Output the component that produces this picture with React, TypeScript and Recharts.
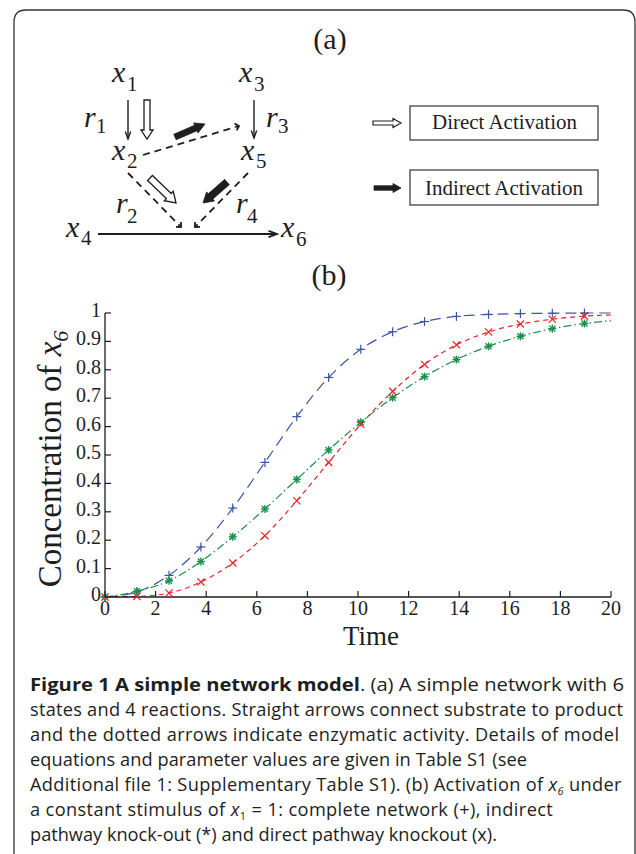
import React from 'react';
import { LineChart, Line, XAxis, YAxis } from 'recharts';

// time points where the markers sit, plus the end of the run
const timePoints = [0, 1.26, 2.53, 3.79, 5.05, 6.32, 7.58, 8.84, 10.11, 11.37, 12.63, 13.89, 15.16, 16.42, 17.68, 18.95, 20];
// complete network (+)
const completeNetwork = [0, 0.018, 0.076, 0.176, 0.313, 0.474, 0.635, 0.773, 0.872, 0.934, 0.97, 0.988, 0.995, 0.998, 0.999, 1.0, 1.0];
// indirect pathway knock-out (*)
const indirectKnockout = [0, 0.02, 0.057, 0.125, 0.212, 0.31, 0.414, 0.518, 0.615, 0.702, 0.776, 0.836, 0.883, 0.918, 0.945, 0.963, 0.973];
// direct pathway knockout (x)
const directKnockout = [0, 0.002, 0.014, 0.053, 0.12, 0.216, 0.339, 0.474, 0.608, 0.724, 0.819, 0.888, 0.933, 0.961, 0.978, 0.989, 0.993];

const xTicks = [0, 2, 4, 6, 8, 10, 12, 14, 16, 18, 20];
const yTicks = [0, 0.1, 0.2, 0.3, 0.4, 0.5, 0.6, 0.7, 0.8, 0.9, 1];
const yTickLabels = ['0', '0.1', '0.2', '0.3', '0.4', '0.5', '0.6', '0.7', '0.8', '0.9', '1'];

const data = timePoints.map((t, i) => ({
  t,
  full: completeNetwork[i],
  indirect: indirectKnockout[i],
  direct: directKnockout[i],
}));

const SERIF = '"Liberation Serif", "Times New Roman", serif';
const SANS = '"Open Sans", "Noto Sans", sans-serif';
const INK = '#1e1e1e';
const BLUE = '#3b55a6';
const GREEN = '#17904a';
const RED = '#ec2127';

// ---------- chart ticks (drawn inward like MATLAB) ----------
const BottomTick = (p: any) => (
  <g>
    <line x1={p.x} y1={p.y} x2={p.x} y2={p.y - 6} stroke={INK} strokeWidth={1.2} />
    <text x={p.x} y={p.y + 18} textAnchor="middle" fontFamily={SERIF} fontSize={20} fill={INK}>
      {p.payload.value}
    </text>
  </g>
);
const TopTick = (p: any) => (
  <line x1={p.x} y1={p.y} x2={p.x} y2={p.y + 6} stroke={INK} strokeWidth={1.2} />
);
const LeftTick = (p: any) => (
  <g>
    <line x1={p.x} y1={p.y} x2={p.x + 6} y2={p.y} stroke={INK} strokeWidth={1.2} />
    <text x={p.x - 4} y={p.y + 4} textAnchor="end" fontFamily={SERIF} fontSize={20} fill={INK}>
      {yTickLabels[yTicks.indexOf(p.payload.value)]}
    </text>
  </g>
);
const RightTick = (p: any) => (
  <line x1={p.x} y1={p.y} x2={p.x - 6} y2={p.y} stroke={INK} strokeWidth={1.2} />
);

const YLabel = () => (
  <text transform="translate(61,169) rotate(-90)" textAnchor="middle" fontFamily={SERIF} fontSize={33} fill={INK}>
    Concentration of <tspan fontStyle="italic">x</tspan>
    <tspan fontSize={22} fontStyle="italic" dy={7}>6</tspan>
  </text>
);
const XLabel = () => (
  <text x={371} y={355} textAnchor="middle" fontFamily={SERIF} fontSize={28} fill={INK} textLength={56} lengthAdjust="spacingAndGlyphs">
    Time
  </text>
);

// ---------- markers ----------
const plusDot = (p: any) => {
  if (p.payload.t === 20) return <g key={`p${p.index}`} />;
  const s = 4.5;
  return (
    <g key={`p${p.index}`} stroke={BLUE} strokeWidth={1.2}>
      <line x1={p.cx - s} y1={p.cy} x2={p.cx + s} y2={p.cy} />
      <line x1={p.cx} y1={p.cy - s} x2={p.cx} y2={p.cy + s} />
    </g>
  );
};
const starDot = (p: any) => {
  if (p.payload.t === 20) return <g key={`s${p.index}`} />;
  const s = 4;
  const d = 3;
  return (
    <g key={`s${p.index}`} stroke={GREEN} strokeWidth={1.4}>
      <line x1={p.cx - s} y1={p.cy} x2={p.cx + s} y2={p.cy} />
      <line x1={p.cx} y1={p.cy - s} x2={p.cx} y2={p.cy + s} />
      <line x1={p.cx - d} y1={p.cy - d} x2={p.cx + d} y2={p.cy + d} />
      <line x1={p.cx - d} y1={p.cy + d} x2={p.cx + d} y2={p.cy - d} />
    </g>
  );
};
const crossDot = (p: any) => {
  if (p.payload.t === 20) return <g key={`x${p.index}`} />;
  const d = 3.6;
  return (
    <g key={`x${p.index}`} stroke={RED} strokeWidth={1.2}>
      <line x1={p.cx - d} y1={p.cy - d} x2={p.cx + d} y2={p.cy + d} />
      <line x1={p.cx - d} y1={p.cy + d} x2={p.cx + d} y2={p.cy - d} />
    </g>
  );
};

// ---------- diagram helpers ----------
function blockArrow(x1: number, y1: number, x2: number, y2: number, shaft: number, head: number, len: number) {
  const L = Math.hypot(x2 - x1, y2 - y1);
  const ux = (x2 - x1) / L, uy = (y2 - y1) / L;
  const nx = -uy, ny = ux;
  const bx = x2 - ux * len, by = y2 - uy * len;
  const pts = [
    [x1 + nx * shaft / 2, y1 + ny * shaft / 2],
    [bx + nx * shaft / 2, by + ny * shaft / 2],
    [bx + nx * head / 2, by + ny * head / 2],
    [x2, y2],
    [bx - nx * head / 2, by - ny * head / 2],
    [bx - nx * shaft / 2, by - ny * shaft / 2],
    [x1 - nx * shaft / 2, y1 - ny * shaft / 2],
  ];
  return pts.map((q) => q.join(',')).join(' ');
}

function barbs(x1: number, y1: number, x2: number, y2: number, len: number, deg: number) {
  const a = Math.atan2(y1 - y2, x1 - x2);
  const r = (deg * Math.PI) / 180;
  const p1 = [x2 + len * Math.cos(a + r), y2 + len * Math.sin(a + r)];
  const p2 = [x2 + len * Math.cos(a - r), y2 + len * Math.sin(a - r)];
  return `M${p1[0]},${p1[1]} L${x2},${y2} L${p2[0]},${p2[1]}`;
}

const Sym = ({ x, y, letter, sub, subDx = 15, subDy = 9 }: any) => (
  <g fill={INK} fontFamily={SERIF}>
    <text x={x} y={y} fontSize={30} fontStyle="italic">{letter}</text>
    <text x={x + subDx} y={y + subDy} fontSize={21}>{sub}</text>
  </g>
);

const ThinArrow = ({ x1, y1, x2, y2, w = 1.4, head = 8 }: any) => (
  <g stroke={INK} strokeWidth={w} fill="none">
    <line x1={x1} y1={y1} x2={x2} y2={y2} />
    <path d={barbs(x1, y1, x2, y2, head, 20)} />
  </g>
);

const DashArrow = ({ x1, y1, x2, y2 }: any) => (
  <g stroke={INK} strokeWidth={1.8} fill="none">
    <line x1={x1} y1={y1} x2={x2} y2={y2} strokeDasharray="7 5" />
    <path d={barbs(x1, y1, x2, y2, 5, 45)} />
  </g>
);

const Diagram = () => (
  <svg width={636} height={854} style={{ position: 'absolute', left: 0, top: 0 }}>
    {/* figure frame */}
    <path d="M14,854 L14,22 Q14,10 26,10 L623,10 Q635,10 635,22 L635,854" fill="none" stroke="#333" strokeWidth={1.3} />

    <text x={330} y={49} textAnchor="middle" fontFamily={SERIF} fontSize={30} fill={INK}>(a)</text>
    <text x={329} y={285} textAnchor="middle" fontFamily={SERIF} fontSize={30} fill={INK}>(b)</text>

    {/* species and reactions */}
    <Sym x={112} y={82} letter="x" sub="1" />
    <Sym x={239} y={82} letter="x" sub="3" />
    <Sym x={112} y={160} letter="x" sub="2" subDy={8} />
    <Sym x={241} y={160} letter="x" sub="5" subDy={8} />
    <Sym x={66} y={237} letter="x" sub="4" subDy={8} />
    <Sym x={281} y={237} letter="x" sub="6" subDy={9} />
    <Sym x={84} y={127} letter="r" sub="1" subDx={12} subDy={6} />
    <Sym x={266} y={127} letter="r" sub="3" subDx={12} subDy={6} />
    <Sym x={116} y={213} letter="r" sub="2" subDx={11} subDy={10} />
    <Sym x={236} y={213} letter="r" sub="4" subDx={11} subDy={10} />

    <ThinArrow x1={128} y1={100} x2={128} y2={139} />
    <ThinArrow x1={254} y1={100} x2={254} y2={138} />
    <ThinArrow x1={98} y1={234} x2={277} y2={234} w={1.8} head={9} />

    <DashArrow x1={143} y1={155} x2={239} y2={126} />
    <DashArrow x1={128} y1={173} x2={181} y2={227} />
    <DashArrow x1={248} y1={173} x2={195} y2={227} />

    {/* activation arrows */}
    <polygon points={blockArrow(147, 100, 147, 139, 6, 12, 9)} fill="#fff" stroke={INK} strokeWidth={1.3} />
    <polygon points={blockArrow(150, 178, 176, 203, 7, 13, 10)} fill="#fff" stroke={INK} strokeWidth={1.3} />
    <polygon points={blockArrow(175, 137, 205, 124, 6, 11, 10)} fill={INK} stroke={INK} strokeWidth={0.8} />
    <polygon points={blockArrow(227, 182, 203, 203, 7, 12, 10)} fill={INK} stroke={INK} strokeWidth={0.8} />

    {/* legend */}
    <polygon points={blockArrow(373, 123, 401, 123, 4, 9, 8)} fill="#fff" stroke={INK} strokeWidth={1.2} />
    <polygon points={blockArrow(374, 188, 401, 188, 4.5, 9, 8)} fill={INK} stroke={INK} strokeWidth={0.8} />
    <rect x={410} y={106} width={188} height={34} fill="none" stroke="#333" strokeWidth={1.2} />
    <rect x={410} y={170} width={188} height={35} fill="none" stroke="#333" strokeWidth={1.2} />
    <text x={504.5} y={129} textAnchor="middle" fontFamily={SERIF} fontSize={22} fill={INK} textLength={145} lengthAdjust="spacingAndGlyphs">Direct Activation</text>
    <text x={504} y={195} textAnchor="middle" fontFamily={SERIF} fontSize={22} fill={INK} textLength={158} lengthAdjust="spacingAndGlyphs">Indirect Activation</text>

    {/* caption */}
    <g fontFamily={SANS} fontSize={18.2} fill={INK}>
      <text x={30} y={691} textLength={594} lengthAdjust="spacingAndGlyphs">
        <tspan fontWeight="bold">Figure 1 A simple network model</tspan>. (a) A simple network with 6
      </text>
      <text x={30} y={716} textLength={593} lengthAdjust="spacing">
        states and 4 reactions. Straight arrows connect substrate to product
      </text>
      <text x={30} y={741} textLength={589} lengthAdjust="spacing">
        and the dotted arrows indicate enzymatic activity. Details of model
      </text>
      <text x={30} y={766} textLength={497} lengthAdjust="spacing">
        equations and parameter values are given in Table S1 (see
      </text>
      <text x={30} y={791} letterSpacing={0.33}>
        Additional file 1: Supplementary Table S1). (b) Activation of <tspan fontStyle="italic">x</tspan>
        <tspan fontSize={11} fontStyle="italic" dy={4}>6</tspan>
        <tspan dy={-4}>{' under'}</tspan>
      </text>
      <text x={30} y={816} letterSpacing={0.38}>
        a constant stimulus of <tspan fontStyle="italic">x</tspan>
        <tspan fontSize={11} dy={4}>1</tspan>
        <tspan dy={-4}>{' = 1: complete network (+), indirect'}</tspan>
      </text>
      <text x={30} y={841}>
        pathway knock-out (*) and direct pathway knockout (x).
      </text>
    </g>
  </svg>
);

export default function App() {
  return (
    <div style={{ position: 'absolute', left: 0, top: 0, width: 636, height: 854, background: '#fff', overflow: 'hidden' }}>
      <Diagram />
      <div style={{ position: 'absolute', left: 0, top: 290 }}>
        <LineChart width={636} height={365} data={data} margin={{ top: 23, right: 25, bottom: 8, left: 40 }}>
          <XAxis
            xAxisId="b"
            dataKey="t"
            type="number"
            domain={[0, 20]}
            ticks={xTicks}
            interval={0}
            orientation="bottom"
            height={50}
            tickSize={0}
            tickMargin={0}
            tickLine={false}
            axisLine={{ stroke: INK, strokeWidth: 1.3 }}
            tick={BottomTick}
            label={<XLabel />}
          />
          <XAxis
            xAxisId="t"
            dataKey="t"
            type="number"
            domain={[0, 20]}
            ticks={xTicks}
            interval={0}
            orientation="top"
            height={0}
            tickSize={0}
            tickMargin={0}
            tickLine={false}
            axisLine={{ stroke: INK, strokeWidth: 1.3 }}
            tick={TopTick}
          />
          <YAxis
            yAxisId="l"
            type="number"
            domain={[0, 1]}
            ticks={yTicks}
            interval={0}
            orientation="left"
            width={65}
            tickSize={0}
            tickMargin={0}
            tickLine={false}
            axisLine={{ stroke: INK, strokeWidth: 1.3 }}
            tick={LeftTick}
            label={<YLabel />}
          />
          <YAxis
            yAxisId="r"
            type="number"
            domain={[0, 1]}
            ticks={yTicks}
            interval={0}
            orientation="right"
            width={0}
            tickSize={0}
            tickMargin={0}
            tickLine={false}
            axisLine={{ stroke: INK, strokeWidth: 1.3 }}
            tick={RightTick}
          />
          <Line xAxisId="b" yAxisId="l" type="monotone" dataKey="full" stroke={BLUE} strokeWidth={1.2} strokeDasharray="11 6" dot={plusDot} activeDot={false} isAnimationActive={false} />
          <Line xAxisId="b" yAxisId="l" type="monotone" dataKey="indirect" stroke={GREEN} strokeWidth={1.2} strokeDasharray="8 3 1.5 3" dot={starDot} activeDot={false} isAnimationActive={false} />
          <Line xAxisId="b" yAxisId="l" type="monotone" dataKey="direct" stroke={RED} strokeWidth={1.2} strokeDasharray="5 4" dot={crossDot} activeDot={false} isAnimationActive={false} />
        </LineChart>
      </div>
    </div>
  );
}
